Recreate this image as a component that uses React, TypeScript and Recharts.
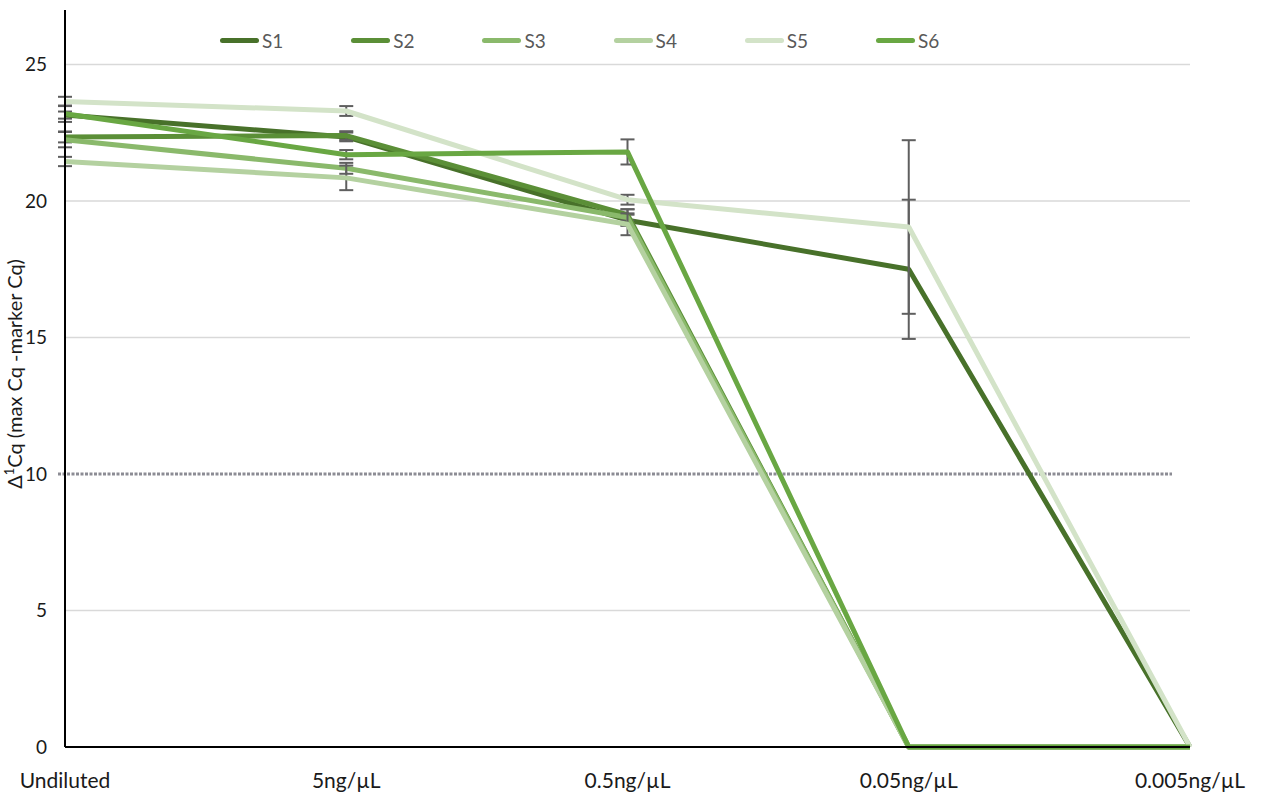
import React from 'react';
import { LineChart, Line, XAxis, YAxis, CartesianGrid, ErrorBar, ReferenceLine, Legend } from 'recharts';

const categories = ['Undiluted', '5ng/µL', '0.5ng/µL', '0.05ng/µL', '0.005ng/µL'];
const seriesNames = ['S1', 'S2', 'S3', 'S4', 'S5', 'S6'];
const S1 = [23.15, 22.35, 19.3, 17.5, 0];
const S2 = [22.35, 22.4, 19.5, 0, 0];
const S3 = [22.25, 21.2, 19.4, 0, 0];
const S4 = [21.45, 20.85, 19.15, 0, 0];
const S5 = [23.65, 23.3, 20.05, 19.05, 0];
const S6 = [23.2, 21.7, 21.8, 0, 0];
const E1 = [0.13, 0.16, 0.2, 2.55, null];
const E2 = [0.2, 0.16, 0.2, null, null];
const E3 = [0.28, 0.2, 0.3, null, null];
const E4 = [0.17, 0.45, 0.4, null, null];
const E5 = [0.17, 0.18, 0.18, 3.18, null];
const E6 = [0.3, 0.17, 0.46, null, null];
const yTicks = [0, 5, 10, 15, 20, 25];
const gridValues = [5, 15, 20, 25];
const thresholdValue = 10;

const values = [S1, S2, S3, S4, S5, S6];
const errors = [E1, E2, E3, E4, E5, E6];
const colors = ['#48712a', '#5b8f37', '#8ab96b', '#b4d1a0', '#d3e3c8', '#69a743'];

const data = categories.map((c, i) => {
  const row: any = { cat: c };
  seriesNames.forEach((s, k) => {
    row[s] = values[k][i];
    row[s + 'e'] = errors[k][i];
  });
  return row;
});

const FONT = 'Lato, "Liberation Sans", Arial, sans-serif';

const renderLegend = () => (
  <div style={{ position: 'relative', width: 1261, height: 0, overflow: 'visible' }}>
    {seriesNames.map((s, k) => (
      <div key={s} style={{ position: 'absolute', left: 220 + k * 131.2, top: 0, height: 24, display: 'flex', alignItems: 'center' }}>
        <div style={{ width: 39, height: 5, borderRadius: 3, background: colors[k] }} />
        <span style={{ marginLeft: 3, fontFamily: FONT, fontSize: 19, color: '#595959' }}>{s}</span>
      </div>
    ))}
  </div>
);

const ThresholdShape = (props: any) => {
  const { x1, y1, x2, y2 } = props;
  return (
    <line x1={x1 - 7} y1={y1} x2={x2 - 18} y2={y2} stroke="#8c8c94" strokeWidth={3} strokeDasharray="3 1.5" />
  );
};

export default function App() {
  return (
    <div style={{ position: 'absolute', left: 0, top: 0, background: '#fff' }}>
      <LineChart width={1261} height={794} data={data} margin={{ top: 10, right: 71, bottom: 0, left: 0 }}>
        <CartesianGrid horizontal vertical={false} horizontalValues={gridValues} stroke="#d9d9d9" strokeWidth={1.5} />
        <ReferenceLine y={thresholdValue} ifOverflow="visible" shape={ThresholdShape} />
        <XAxis
          dataKey="cat"
          height={47}
          tickSize={0}
          tickMargin={26}
          axisLine={{ stroke: '#000', strokeWidth: 2 }}
          tick={{ fill: '#1a1a1a', fontSize: 21, fontFamily: FONT }}
          interval={0}
        />
        <YAxis
          width={65}
          domain={[0, 27]}
          ticks={yTicks}
          tickSize={0}
          tickMargin={18}
          axisLine={{ stroke: '#000', strokeWidth: 2 }}
          tick={{ fill: '#1a1a1a', fontSize: 19, fontFamily: FONT }}
          label={{
            content: () => (
              <text x={22} y={374} transform="rotate(-90 22 374)" textAnchor="middle" fill="#1a1a1a" fontSize={20} fontFamily={FONT}>
                Δ<tspan baselineShift="super" fontSize={13}>1</tspan>Cq (max Cq -marker Cq)
              </text>
            ),
          }}
        />
        <Legend verticalAlign="top" content={renderLegend} wrapperStyle={{ top: 28, left: 0, width: 1261, height: 0 }} />
        {seriesNames.map((s, k) => (
          <Line
            key={s}
            type="linear"
            dataKey={s}
            stroke={colors[k]}
            strokeWidth={5}
            strokeLinejoin="round"
            dot={false}
            activeDot={false}
            isAnimationActive={false}
          >
            <ErrorBar dataKey={s + 'e'} width={7} stroke="#5f5f5f" strokeWidth={2} direction="y" />
          </Line>
        ))}
      </LineChart>
    </div>
  );
}
